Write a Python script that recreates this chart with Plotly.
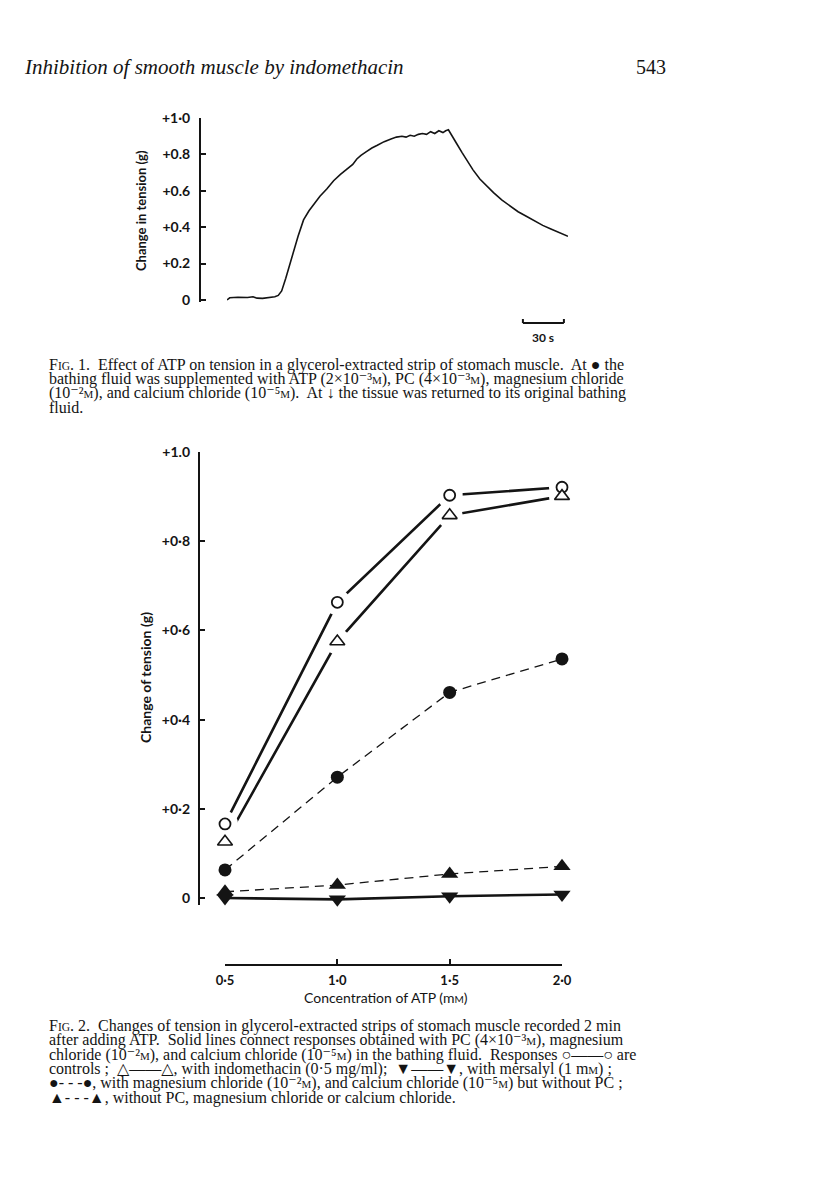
import plotly.graph_objects as go

# The page body adds an 8 px margin, so the figure is drawn 8 px in from
# the top-left corner; all layout positions below are given in page pixels.
OFF = 8
W, H = 816 - OFF, 1188 - OFF


def px(x):
    return (x - OFF) / W


def py(y):
    return 1 - (y - OFF) / H


# ---------------- Fig. 1 data (tension trace) ----------------
fig1_time_s = [0, 2, 8, 15, 19, 22, 26, 31, 35, 37.5, 40, 43, 46, 49, 52, 56, 60, 64,
               68, 73, 78, 83, 88, 92, 95, 98, 102, 106, 110, 115, 120, 124, 128, 131,
               134, 137, 140, 143, 146, 149, 152, 155, 158, 160, 162, 165, 168, 172,
               176, 180, 185, 190, 195, 201, 207, 213, 219, 225, 231, 237, 244, 249.5]
fig1_tension_g = [0.0, 0.012, 0.015, 0.014, 0.018, 0.01, 0.009, 0.012, 0.018, 0.025,
                  0.05, 0.12, 0.2, 0.28, 0.35, 0.44, 0.49, 0.53, 0.57, 0.61, 0.655,
                  0.69, 0.72, 0.745, 0.775, 0.795, 0.815, 0.835, 0.85, 0.87, 0.885, 0.895,
                  0.9, 0.895, 0.905, 0.9, 0.91, 0.915, 0.91, 0.925, 0.915, 0.93, 0.92,
                  0.93, 0.935, 0.9, 0.86, 0.81, 0.76, 0.715, 0.665, 0.625, 0.59, 0.55,
                  0.515, 0.485, 0.46, 0.435, 0.41, 0.39, 0.37, 0.35]
fig1_atp_added_s = 37.3
fig1_washout_s = 162
fig1_scale_bar_s = 30
fig1_scale_bar_end_s = 246.5
fig1_ytick_vals = [0, 0.2, 0.4, 0.6, 0.8, 1.0]
fig1_ytick_text = ["0", "+0.2", "+0.4", "+0.6", "+0.8", "+1·0"]

# ---------------- Fig. 2 data ----------------
atp_mM = [0.5, 1.0, 1.5, 2.0]
atp_tick_text = ["0·5", "1·0", "1·5", "2·0"]
control = [0.166, 0.663, 0.903, 0.921]
indomethacin = [0.126, 0.575, 0.858, 0.901]
mg_ca_no_pc = [0.063, 0.271, 0.461, 0.536]
no_pc_mg_ca = [0.014, 0.029, 0.054, 0.071]
mersalyl = [0.0, -0.003, 0.004, 0.008]
fig2_ytick_vals = [0, 0.2, 0.4, 0.6, 0.8, 1.0]
fig2_ytick_text = ["0", "+0·2", "+0·4", "+0·6", "+0·8", "+1.0"]

INK = "#141414"
SANS = "Lato, 'DejaVu Sans', sans-serif"
SERIF = "'Liberation Serif', 'DejaVu Serif', serif"

fig = go.Figure()

# ---- Fig 1 trace ----
fig.add_trace(go.Scatter(x=fig1_time_s, y=fig1_tension_g, mode="lines",
                         line=dict(color=INK, width=1.6), xaxis="x", yaxis="y",
                         hoverinfo="skip", showlegend=False))
fig.add_trace(go.Scatter(x=[fig1_atp_added_s], y=[-0.06], mode="markers",
                         marker=dict(color=INK, size=9, symbol="circle"),
                         cliponaxis=False, xaxis="x", yaxis="y",
                         hoverinfo="skip", showlegend=False))


# ---- Fig 2 lines ----
def line_trace(vals, dash, width):
    return go.Scatter(x=atp_mM, y=vals, mode="lines",
                      line=dict(color=INK, width=width, dash=dash),
                      xaxis="x2", yaxis="y2", hoverinfo="skip", showlegend=False)


fig.add_trace(line_trace(control, "solid", 2.6))
fig.add_trace(line_trace(indomethacin, "solid", 2.6))
fig.add_trace(line_trace(mersalyl, "solid", 2.6))
fig.add_trace(line_trace(mg_ca_no_pc, "9px,6px", 1.3))
fig.add_trace(line_trace(no_pc_mg_ca, "9px,6px", 1.3))

# white halos leaving gaps between solid lines and open markers
for vals in [control, indomethacin]:
    fig.add_trace(go.Scatter(x=atp_mM, y=vals, mode="markers",
                             marker=dict(color="white", size=26, symbol="circle",
                                         line=dict(width=0)),
                             cliponaxis=False, xaxis="x2", yaxis="y2",
                             hoverinfo="skip", showlegend=False))


def marker_trace(vals, symbol, size, fill, lw):
    return go.Scatter(x=atp_mM, y=vals, mode="markers",
                      marker=dict(symbol=symbol, size=size, color=fill,
                                  line=dict(color=INK, width=lw)),
                      cliponaxis=False, xaxis="x2", yaxis="y2",
                      hoverinfo="skip", showlegend=False)


fig.add_trace(marker_trace(control, "circle", 11, "white", 1.8))
fig.add_trace(marker_trace(indomethacin, "triangle-up", 13, "white", 1.6))
fig.add_trace(marker_trace(mg_ca_no_pc, "circle", 13, INK, 0))
fig.add_trace(marker_trace(no_pc_mg_ca, "triangle-up", 15, INK, 0))
fig.add_trace(marker_trace(mersalyl, "triangle-down", 15, INK, 0))

fig.update_layout(
    template="none",
    width=W, height=H, autosize=False,
    margin=dict(l=0, r=0, t=0, b=0, pad=0),
    paper_bgcolor="white", plot_bgcolor="rgba(0,0,0,0)",
    showlegend=False,
    xaxis=dict(domain=[px(227), px(568)], range=[0, 249.5], visible=False,
               anchor="y", automargin=False),
    yaxis=dict(domain=[py(301.8), py(118)], range=[-0.01, 1.0], anchor="free",
               position=px(200), showline=True, linecolor=INK, linewidth=2,
               ticks="inside", ticklen=5, tickwidth=1.5, tickcolor=INK,
               tickvals=fig1_ytick_vals, ticktext=fig1_ytick_text,
               tickfont=dict(family=SANS, size=14, color=INK, weight="bold"),
               ticklabelstandoff=6, showgrid=False, zeroline=False,
               automargin=False),
    xaxis2=dict(domain=[px(225), px(562)], range=[0.5, 2.0], anchor="free",
                position=py(965), showline=True, linecolor=INK, linewidth=2.2,
                ticks="inside", ticklen=5, tickwidth=2, tickcolor=INK,
                tickvals=atp_mM, ticktext=atp_tick_text,
                tickfont=dict(family=SANS, size=13, color=INK, weight="bold"),
                ticklabelstandoff=3, showgrid=False, zeroline=False,
                automargin=False),
    yaxis2=dict(domain=[py(904.7), py(452)], range=[-0.015, 1.0], anchor="free",
                position=px(199), showline=True, linecolor=INK, linewidth=2.4,
                ticks="inside", ticklen=5, tickwidth=2, tickcolor=INK,
                tickvals=fig2_ytick_vals, ticktext=fig2_ytick_text,
                tickfont=dict(family=SANS, size=14, color=INK, weight="bold"),
                ticklabelstandoff=5, showgrid=False, zeroline=False,
                automargin=False),
)

# ---- scale bar (30 s) on Fig 1 ----
bar_start = fig1_scale_bar_end_s - fig1_scale_bar_s
for x0, x1, y0, y1 in [(bar_start, fig1_scale_bar_end_s, 323, 323),
                       (bar_start, bar_start, 323, 319),
                       (fig1_scale_bar_end_s, fig1_scale_bar_end_s, 323, 319)]:
    fig.add_shape(type="line", xref="x", yref="paper", x0=x0, x1=x1,
                  y0=py(y0), y1=py(y1), line=dict(color=INK, width=2))

ann = []


def text_ann(x, y, text, font, xanchor="center", yanchor="middle", angle=0):
    ann.append(dict(x=px(x), y=py(y), xref="paper", yref="paper", text=text,
                    xanchor=xanchor, yanchor=yanchor, textangle=angle,
                    showarrow=False, font=font))


# washout arrow
ann.append(dict(x=fig1_washout_s, y=1.085, xref="x", yref="y", text="",
                showarrow=True, ax=0, ay=-13, arrowhead=2, arrowsize=1.1,
                arrowwidth=1.5, arrowcolor=INK))
ann.append(dict(x=(bar_start + fig1_scale_bar_end_s) / 2, xref="x", y=py(337),
                yref="paper", text="30 s", showarrow=False, xanchor="center",
                yanchor="middle",
                font=dict(family=SANS, size=12, color=INK, weight="bold")))

# header
text_ann(22, 67, "<i>Inhibition of smooth muscle by indomethacin</i>",
         dict(family=SERIF, size=21, color=INK), xanchor="left")
text_ann(668, 67, "543", dict(family=SERIF, size=20, color=INK), xanchor="right")

# axis titles
text_ann(141, 211, "Change in tension (g)",
         dict(family=SANS, size=13, color=INK, weight="bold"), angle=-90)
text_ann(145, 678, "Change of tension (g)",
         dict(family=SANS, size=14, color=INK, weight="bold"), angle=-90)
SM = "<span style='font-size:10px'>M</span>"
text_ann(386, 997, "Concentration of ATP (m" + SM + ")",
         dict(family=SANS, size=14, color=INK))

# captions
sc = "<span style='font-size:11px'>M</span>"


def fig_sc(n):
    return "F<span style='font-size:11.5px'>IG</span>. " + n + "."


cap1 = [
    fig_sc("1") + "  Effect of ATP on tension in a glycerol-extracted strip of stomach muscle.  At ● the",
    "bathing fluid was supplemented with ATP (2×10⁻³" + sc + "), PC (4×10⁻³" + sc + "), magnesium chloride",
    "(10⁻²" + sc + "), and calcium chloride (10⁻⁵" + sc + ").  At ↓ the tissue was returned to its original bathing",
    "fluid.",
]
cap2 = [
    fig_sc("2") + "  Changes of tension in glycerol-extracted strips of stomach muscle recorded 2 min",
    "after adding ATP.  Solid lines connect responses obtained with PC (4×10⁻³" + sc + "), magnesium",
    "chloride (10⁻²" + sc + "), and calcium chloride (10⁻⁵" + sc + ") in the bathing fluid.  Responses ○——○ are",
    "controls ;  △——△, with indomethacin (0·5 mg/ml);  ▼——▼, with mersalyl (1 m" + sc + ") ;",
    "●- - -●, with magnesium chloride (10⁻²" + sc + "), and calcium chloride (10⁻⁵" + sc + ") but without PC ;",
    "▲- - -▲, without PC, magnesium chloride or calcium chloride.",
]
cap_font = dict(family=SERIF, size=16, color=INK)
for i, line in enumerate(cap1):
    text_ann(47, 365 + i * 14.2, line, cap_font, xanchor="left")
for i, line in enumerate(cap2):
    text_ann(47, 1026 + i * 14.3, line, cap_font, xanchor="left")

fig.update_layout(annotations=ann)
fig.write_html("out.html")
